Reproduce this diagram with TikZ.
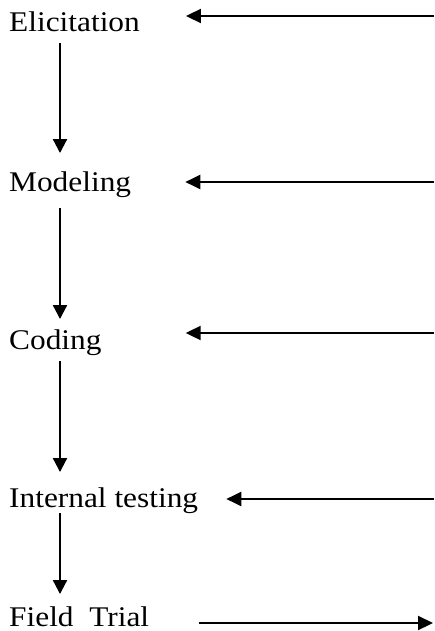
\documentclass[tikz,border=0pt]{standalone}
\usepackage{fontspec}
\setmainfont[FakeStretch=1.1]{Liberation Serif}
\usetikzlibrary{arrows.meta, positioning}

\begin{document}
\begin{tikzpicture}[
        x=1pt, y=1pt,
        every node/.style={inner sep=0pt, anchor=base west, font=\fontsize{28.5}{30}\selectfont},
        flow/.style={line width=2.2pt, -{Triangle[length=14pt, width=14pt]}},
        feed/.style={line width=2.2pt, -{Triangle[length=15pt, width=14pt]}}
    ]
        \useasboundingbox (0,0) rectangle (434,-631);

        % Phasen
        \node (E) at (9,-32) {Elicitation};
        \node (M) at (9,-191) {Modeling};
        \node (C) at (9,-349) {Coding};
        \node (I) at (9,-507) {Internal testing};
        \node (F) at (9,-626) {Field\ \ Trial};

        % Spalte der Pfeile und rechte Enden
        \coordinate (col) at (60,0);
        \coordinate (inE) at (434,-16);
        \coordinate (inM) at (434,-182);
        \coordinate (inC) at (434,-333);
        \coordinate (inI) at (434,-499);
        \coordinate (outF) at (433,-623);

        % Abwaerts
        \draw[flow, shorten <=11pt, shorten >=18pt] (E.south -| col) -- (M.north -| col);
        \draw[flow, shorten <=11pt, shorten >=10pt] (M.south -| col) -- (C.north -| col);
        \draw[flow, shorten <=6pt, shorten >=15pt] (C.south -| col) -- (I.north -| col);
        \draw[flow, shorten <=0pt, shorten >=12pt] (I.south -| col) -- (F.north -| col);

        % Rueckmeldungen
        \draw[feed, shorten >=46pt] (inE) -- (E.east |- inE);
        \draw[feed, shorten >=54pt] (inM) -- (M.east |- inM);
        \draw[feed, shorten >=84pt] (inC) -- (C.east |- inC);
        \draw[feed, shorten >=28pt] (inI) -- (I.east |- inI);
        \draw[feed, shorten <=50pt] (F.east |- outF) -- (outF);
    \end{tikzpicture}
\end{document}
